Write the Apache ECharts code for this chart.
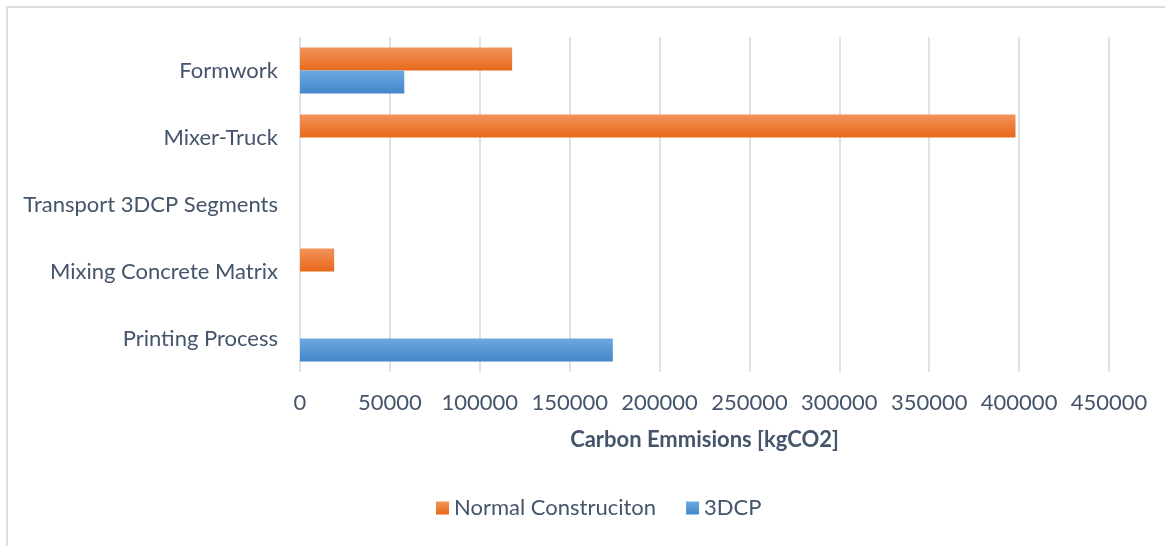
<!DOCTYPE html>
<html>
<head>
<meta charset="utf-8">
<style>
  html, body { margin: 0; padding: 0; background: #ffffff; }
  #chart { width: 1165px; height: 546px; }
</style>
<script src="https://cdn.jsdelivr.net/npm/echarts@6/dist/echarts.min.js"></script>
</head>
<body>
<div id="chart"></div>
<script>
// Process stages (top to bottom)
const categories = ['Formwork', 'Mixer-Truck', 'Transport 3DCP Segments', 'Mixing Concrete Matrix', 'Printing Process'];
// Carbon emissions per stage, kgCO2
const normalConstruction = [118000, 398000, 0, 19000, 0];
const printing3D = [58000, 0, 0, 0, 174000];
const seriesNames = ['Normal Construciton', '3DCP'];

const textColor = '#44546a';
const fontFamily = 'Lato, "Open Sans", sans-serif';

function grad(top, bottom) {
  return new echarts.graphic.LinearGradient(0, 0, 0, 1, [
    { offset: 0, color: top },
    { offset: 1, color: bottom }
  ]);
}

const chart = echarts.init(document.getElementById('chart'));
chart.setOption({
  animation: false,
  backgroundColor: '#ffffff',
  graphic: [{
    type: 'rect',
    shape: { x: 7, y: 7, width: 1170, height: 560 },
    style: { fill: 'none', stroke: '#d9dce1', lineWidth: 2 },
    silent: true
  }],
  grid: { left: 300, right: 56, top: 37, height: 335, containLabel: false },
  legend: {
    bottom: 22,
    left: 431,
    itemWidth: 13,
    itemHeight: 13,
    itemGap: 30,
    icon: 'rect',
    textStyle: { color: textColor, fontSize: 22, fontFamily: fontFamily },
    data: seriesNames
  },
  xAxis: {
    type: 'value',
    min: 0,
    max: 450000,
    interval: 50000,
    name: 'Carbon Emmisions [kgCO2]',
    nameLocation: 'middle',
    nameGap: 57,
    nameTextStyle: { color: textColor, fontSize: 22, fontWeight: 'bold', fontFamily: fontFamily },
    axisLine: { show: false },
    axisTick: { show: false },
    axisLabel: { color: textColor, fontSize: 22, fontFamily: fontFamily, margin: 20, formatter: (v) => String(v) },
    splitLine: { lineStyle: { color: '#dfe2e8', width: 2 } }
  },
  yAxis: {
    type: 'category',
    data: categories,
    inverse: true,
    axisLine: { show: false },
    axisTick: { show: false },
    axisLabel: { color: textColor, fontSize: 22, fontFamily: fontFamily, margin: 22 }
  },
  series: [
    {
      name: seriesNames[0],
      type: 'bar',
      data: normalConstruction,
      barWidth: 23,
      barGap: '0%',
      itemStyle: { color: grad('#f2935b', '#e8691a') }
    },
    {
      name: seriesNames[1],
      type: 'bar',
      data: printing3D,
      barWidth: 23,
      barGap: '0%',
      itemStyle: { color: grad('#6ea8e0', '#4386c9') }
    }
  ]
});
</script>
</body>
</html>
